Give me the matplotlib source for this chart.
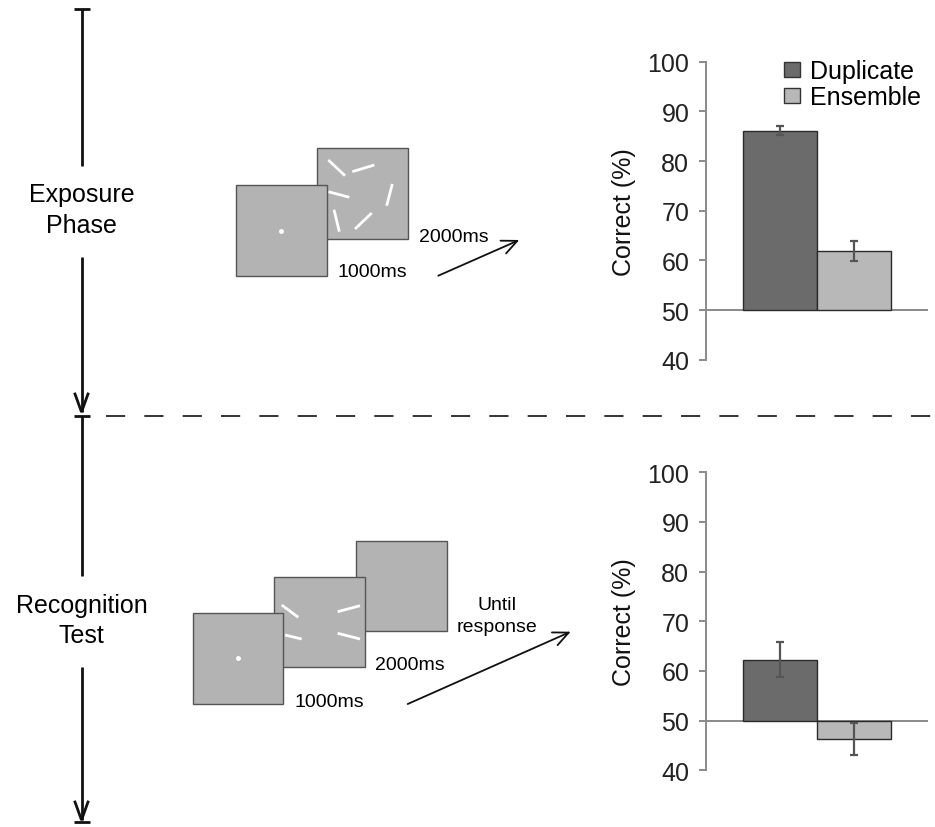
import matplotlib
matplotlib.use("Agg")
import matplotlib.pyplot as plt
from matplotlib.patches import Rectangle, Patch

plt.rcParams['font.family'] = ['Liberation Sans', 'DejaVu Sans']

# ---------------- data ----------------
conditions = ["Duplicate", "Ensemble"]
exposure_mean = [86.1, 61.9]
exposure_err = [0.9, 2.0]
recognition_mean = [62.3, 46.3]
recognition_err = [3.6, 3.2]
y_ticks = [40, 50, 60, 70, 80, 90, 100]
chance = 50
bar_colors = ["#6b6b6b", "#b8b8b8"]

phase_labels = [["Exposure", "Phase"], ["Recognition", "Test"]]
top_durations = ["1000ms", "2000ms"]
bottom_durations = ["1000ms", "2000ms", "Until", "response"]

# ---------------- stimulus schematic layout (pixels) ----------------
top_squares = [(317.3, 149.3), (236, 186)]          # back to front
bottom_squares = [(356, 541.7), (274.3, 577.7), (192.7, 614.3)]
sq = 90.7
top_segments = [((328.3, 161), (345, 176.7)), ((352.3, 172.7), (374.3, 166)),
                ((328.3, 192.7), (349.3, 198.3)), ((392.3, 185), (386.7, 206.7)),
                ((334, 210.7), (339.3, 232.7)), ((371.7, 214), (355, 230))]
bottom_segments = [((281.7, 606), (298.3, 618.3)), ((337.7, 612.7), (360, 606.7)),
                   ((285, 636), (301.7, 640)), ((337.7, 634.3), (360, 640))]

W, H = 935, 828
fig = plt.figure(figsize=(W / 100, H / 100), dpi=100)

# overlay in pixel coordinates
ov = fig.add_axes([0, 0, 1, 1])
ov.set_xlim(0, W)
ov.set_ylim(H, 0)
ov.axis('off')

lc = "#111111"
tx = 81.5
# timeline
for y0, y1 in [(10, 167), (258, 413), (417, 577), (668, 821)]:
    ov.plot([tx, tx], [y0, y1], color=lc, lw=2, solid_capstyle='butt')
for yc in [10, 417, 823]:
    ov.plot([73.5, 89.5], [yc, yc], color=lc, lw=2, solid_capstyle='butt')
for ytip in [413, 821]:
    ov.plot([75, tx, 88], [ytip - 18, ytip, ytip - 18], color=lc, lw=2,
            solid_joinstyle='miter')

# dashed separator
ln, = ov.plot([106, 935], [417, 417], color=lc, lw=1.2)
ln.set_dashes((11.5, 11.5))

# phase labels
fs_big = 18
ov.text(tx, 201.7, phase_labels[0][0], ha='center', va='baseline', fontsize=fs_big)
ov.text(tx, 233, phase_labels[0][1], ha='center', va='baseline', fontsize=fs_big)
ov.text(tx, 613.3, phase_labels[1][0], ha='center', va='baseline', fontsize=fs_big)
ov.text(tx, 643.3, phase_labels[1][1], ha='center', va='baseline', fontsize=fs_big)

# squares
sq_face, sq_edge = "#b3b3b3", "#555555"
for (x, y) in top_squares[:1]:
    ov.add_patch(Rectangle((x, y), sq, sq, fc=sq_face, ec=sq_edge, lw=1))
for (p0, p1) in top_segments:
    ov.plot([p0[0], p1[0]], [p0[1], p1[1]], color="white", lw=2, solid_capstyle='butt', zorder=1.5)
ov.add_patch(Rectangle(top_squares[1], sq, sq, fc=sq_face, ec=sq_edge, lw=1, zorder=1.6))
ov.plot([281], [231.7], 'o', color='white', ms=2.5, zorder=2)

for (x, y) in bottom_squares[:2]:
    ov.add_patch(Rectangle((x, y), sq, sq, fc=sq_face, ec=sq_edge, lw=1))
for (p0, p1) in bottom_segments:
    ov.plot([p0[0], p1[0]], [p0[1], p1[1]], color="white", lw=2, solid_capstyle='butt', zorder=1.5)
ov.add_patch(Rectangle(bottom_squares[2], sq, sq, fc=sq_face, ec=sq_edge, lw=1, zorder=1.6))
ov.plot([238.3], [659.3], 'o', color='white', ms=2.5, zorder=2)

fs_mid = 14
ov.text(337.3, 276.7, top_durations[0], ha='left', va='baseline', fontsize=fs_mid)
ov.text(419, 241.7, top_durations[1], ha='left', va='baseline', fontsize=fs_mid)
ov.text(295, 706.7, bottom_durations[0], ha='left', va='baseline', fontsize=fs_mid)
ov.text(375, 670, bottom_durations[1], ha='left', va='baseline', fontsize=fs_mid)
ov.text(497, 610, bottom_durations[2], ha='center', va='baseline', fontsize=fs_mid)
ov.text(497, 632, bottom_durations[3], ha='center', va='baseline', fontsize=fs_mid)

# time arrows
arrow_kw = dict(arrowstyle='->,head_length=0.55,head_width=0.25', color=lc, lw=1.3,
                mutation_scale=20, shrinkA=0, shrinkB=0)
ov.annotate('', xy=(519.3, 241), xytext=(438.3, 276.7), arrowprops=arrow_kw)
ov.annotate('', xy=(570.7, 632.7), xytext=(407.7, 705), arrowprops=arrow_kw)

# ---------------- bar charts ----------------
spine_c = "#8a8a8a"
left = 706 / W
width = (928 - 706) / W


def bar_panel(top_px, means, errs, legend=False):
    bottom_px = top_px + 298
    ax = fig.add_axes([left, 1 - bottom_px / H, width, 298 / H])
    xs = list(range(len(means)))
    heights = [m - chance for m in means]
    ax.bar(xs, heights, bottom=chance, width=1.0, color=bar_colors,
           edgecolor="#2a2a2a", linewidth=1.0, zorder=2)
    ax.errorbar(xs, means, yerr=errs, fmt='none', ecolor="#555555", elinewidth=1.6,
                capsize=3.2, capthick=1.6, zorder=3, clip_on=False)
    ax.axhline(chance, color=spine_c, lw=1.4, zorder=1)
    ax.set_xlim(-1, 2)
    ax.set_ylim(min(y_ticks), max(y_ticks))
    ax.set_yticks(y_ticks)
    ax.set_xticks([])
    for s in ['top', 'right', 'bottom']:
        ax.spines[s].set_visible(False)
    ax.spines['left'].set_color(spine_c)
    ax.spines['left'].set_linewidth(1.4)
    ax.tick_params(axis='y', length=5, width=1.4, color=spine_c, labelsize=18,
                   labelcolor="#222222", pad=7)
    ax.set_ylabel("Correct (%)", fontsize=18, labelpad=8, color="#111111")
    ax.patch.set_alpha(0)
    if legend:
        handles = [Patch(fc=c, ec="#333333", lw=1.0) for c in bar_colors]
        ax.legend(handles, conditions, loc='upper left', bbox_to_anchor=(0.351, 1.008),
                  frameon=False, fontsize=18, handlelength=0.64, handleheight=0.58,
                  handletextpad=0.4, labelspacing=0.08, borderpad=0, borderaxespad=0)
    return ax


bar_panel(62.7, exposure_mean, exposure_err, legend=True)
bar_panel(473.3, recognition_mean, recognition_err)

fig.savefig("out.png", dpi=100)
